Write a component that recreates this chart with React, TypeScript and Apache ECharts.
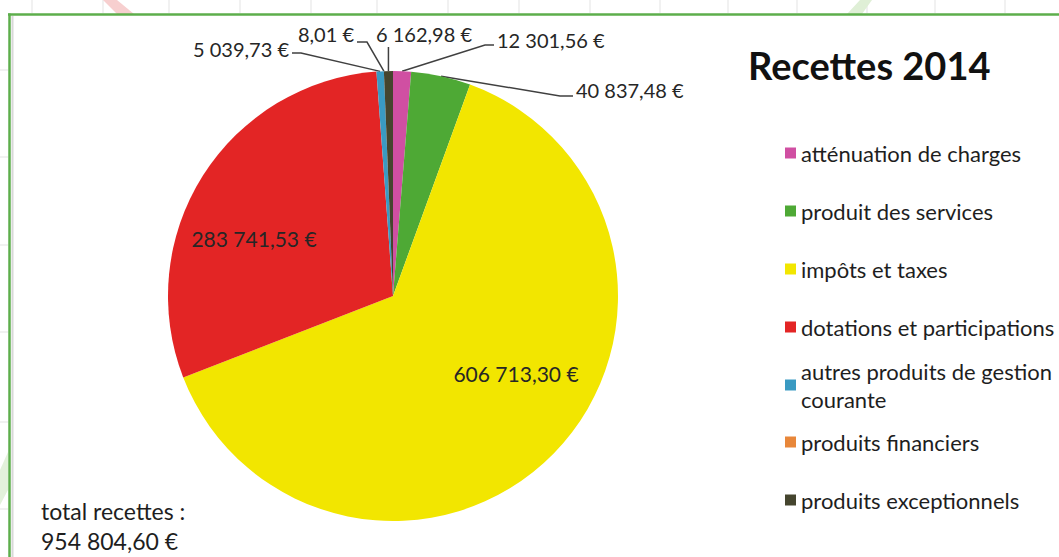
import React, { useEffect, useRef } from "react";
import * as echarts from "echarts";

// ---- data ----
const categories = [
  "atténuation de charges",
  "produit des services",
  "impôts et taxes",
  "dotations et participations",
  "autres produits de gestion courante",
  "produits financiers",
  "produits exceptionnels",
];
const values = [12301.56, 40837.48, 606713.3, 283741.53, 5039.73, 8.01, 6162.98];
const sliceColors = ["#D04FA2", "#4EA935", "#F2E600", "#E32525", "#3A9AC2", "#E8873A", "#45452E"];
const chartTitle = "Recettes 2014";
const totalLabel = "total recettes :";
const totalValue = 954804.6;

function fmt(v: number): string {
  const [i, d] = v.toFixed(2).split(".");
  const grouped = i.replace(/\B(?=(\d{3})+(?!\d))/g, " ");
  return `${grouped},${d} €`;
}

// ---- layout (positions only) ----
const CX = 393;
const CY = 296;
const R = 225;
const FONT = "Lato, 'Open Sans', sans-serif";

type LabelPos = { x: number; y: number; align: string; elbow?: number[]; end?: number[]; vertical?: number };
const labelPos: Record<number, LabelPos> = {
  0: { x: 497, y: 40, align: "left", elbow: [485, 45], end: [494, 45] },
  1: { x: 576, y: 90, align: "left", elbow: [560, 96], end: [573, 96] },
  2: { x: 516, y: 373, align: "center" },
  3: { x: 254, y: 238, align: "center" },
  4: { x: 289, y: 49, align: "right", elbow: [301, 53], end: [292, 53] },
  5: { x: 354, y: 34, align: "right", elbow: [367, 42], end: [357, 42] },
  6: { x: 376, y: 34, align: "left", vertical: 47 },
};
const insideIdx = [2, 3];

const gridX = [32, 103, 169, 240, 311, 377, 448, 519, 590, 660, 728, 797, 867, 935, 1005];
const gridY = [70, 157, 245, 332, 422, 509];

export default function App() {
  const ref = useRef<HTMLDivElement>(null);

  useEffect(() => {
    if (!ref.current) return;
    const chart = echarts.init(ref.current, undefined, { renderer: "svg" });

    const data = categories.map((name, i) => ({
      name,
      value: values[i],
      itemStyle: { color: sliceColors[i] },
      label: insideIdx.includes(i) ? { position: "inside", fontSize: 21 } : { position: "outside" },
      labelLine: { show: !insideIdx.includes(i) },
    }));

    const legendText = { fontFamily: FONT, fontSize: 22, color: "#1e1e1e", lineHeight: 22 };
    const legendCommon = {
      orient: "vertical",
      left: 785,
      padding: 0,
      icon: "rect",
      itemWidth: 11,
      itemHeight: 11,
      itemGap: 36,
      selectedMode: false,
      textStyle: legendText,
    };

    const graphics: any[] = [];
    gridX.forEach((x) =>
      graphics.push({ type: "line", z: 0, shape: { x1: x, y1: 0, x2: x, y2: 13 }, style: { stroke: "#E3E3E3", lineWidth: 1 } })
    );
    gridY.forEach((y) =>
      graphics.push({ type: "line", z: 0, shape: { x1: 0, y1: y, x2: 8, y2: y }, style: { stroke: "#E3E3E3", lineWidth: 1 } })
    );
    graphics.push(
      { type: "polygon", z: 0, shape: { points: [[103, 0], [117, 0], [134, 14], [117, 14]] }, style: { fill: "#F7CFCF" } },
      { type: "polygon", z: 0, shape: { points: [[860, 0], [872, 0], [862, 14], [847, 14]] }, style: { fill: "#DFEFD6" } },
      { type: "polygon", z: 0, shape: { points: [[8, 452], [8, 490], [0, 505], [0, 470]] }, style: { fill: "#E3F1DB" } },
      { type: "line", z: 1, shape: { x1: 12.5, y1: 16, x2: 12.5, y2: 557 }, style: { stroke: "#D8D8D8", lineWidth: 2 } },
      { type: "line", z: 2, shape: { x1: 8, y1: 14.5, x2: 1059, y2: 14.5 }, style: { stroke: "#5DAE4B", lineWidth: 2.5 } },
      { type: "line", z: 2, shape: { x1: 9.5, y1: 13.5, x2: 9.5, y2: 557 }, style: { stroke: "#5DAE4B", lineWidth: 2.5 } },
      {
        type: "text",
        z: 3,
        left: 41,
        top: 496,
        style: {
          text: `${totalLabel}\n${fmt(totalValue)}`,
          font: `23px ${FONT}`,
          fill: "#1e1e1e",
          lineHeight: 30,
        },
      }
    );

    chart.setOption({
      animation: false,
      backgroundColor: "#ffffff",
      title: {
        text: chartTitle,
        left: 748,
        top: 46,
        padding: 0,
        textStyle: { fontFamily: FONT, fontSize: 38, fontWeight: "bold", color: "#111" },
      },
      legend: [
        { ...legendCommon, top: 142, data: categories.slice(0, 4) },
        {
          ...legendCommon,
          top: 343,
          data: [
            {
              name: categories[4],
              textStyle: { ...legendText, lineHeight: 28, padding: [28, 0, 0, 0] },
            },
          ],
          formatter: () => "autres produits de gestion\ncourante",
        },
        { ...legendCommon, top: 431, data: categories.slice(5) },
      ],
      graphic: graphics,
      series: [
        {
          type: "pie",
          center: [CX, CY],
          radius: R,
          startAngle: 90,
          clockwise: true,
          avoidLabelOverlap: false,
          minShowLabelAngle: 0,
          emphasis: { disabled: true },
          itemStyle: { borderWidth: 0 },
          label: {
            show: true,
            formatter: (p: any) => fmt(p.value),
            fontFamily: FONT,
            fontSize: 20,
            color: "#262626",
          },
          labelLine: { lineStyle: { color: "#404040", width: 1.5 }, length: 10, length2: 10 },
          labelLayout: (params: any) => {
            const lp = labelPos[params.dataIndex];
            if (!lp) return {};
            const out: any = { x: lp.x, y: lp.y, align: lp.align, verticalAlign: "middle" };
            const pts = params.labelLinePoints;
            if (pts && pts.length) {
              const edge = pts[0];
              if (lp.vertical != null) {
                out.labelLinePoints = [edge, [edge[0], lp.vertical], [edge[0], lp.vertical]];
              } else if (lp.elbow && lp.end) {
                out.labelLinePoints = [edge, lp.elbow, lp.end];
              }
            }
            return out;
          },
          data,
        },
      ],
    });

    return () => chart.dispose();
  }, []);

  return (
    <div
      ref={ref}
      style={{ position: "fixed", left: 0, top: 0, width: 1059, height: 557, background: "#fff" }}
    />
  );
}
